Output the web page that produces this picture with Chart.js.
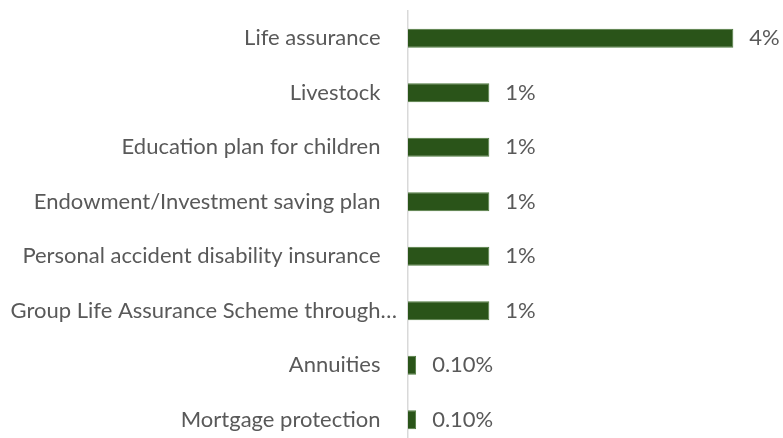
<!DOCTYPE html>
<html>
<head>
<meta charset="utf-8">
<script src="https://cdn.jsdelivr.net/npm/chart.js@4/dist/chart.umd.min.js"></script>
<style>
  html, body { margin: 0; padding: 0; background: #fff; overflow: hidden; }
  #chart { display: block; }
</style>
</head>
<body>
<canvas id="chart" width="783" height="447"></canvas>
<script>
// Insurance products held (% of respondents)
const categories = [
  'Life assurance',
  'Livestock',
  'Education plan for children',
  'Endowment/Investment saving plan',
  'Personal accident disability insurance',
  'Group Life Assurance Scheme through\u2026',
  'Annuities',
  'Mortgage protection'
];
const shares = [4, 1, 1, 1, 1, 1, 0.1, 0.1];

const FONT = { family: 'Lato, "Open Sans", sans-serif', size: 22 };
const TEXT = '#595959';

function fmtPct(v) {
  return v >= 1 ? v + '%' : v.toFixed(2) + '%';
}

// Value labels to the right of each bar
const valueLabels = {
  id: 'valueLabels',
  afterDatasetsDraw(chart) {
    const ctx = chart.ctx;
    const meta = chart.getDatasetMeta(0);
    ctx.save();
    ctx.font = FONT.size + 'px ' + FONT.family;
    ctx.fillStyle = TEXT;
    ctx.textAlign = 'left';
    ctx.textBaseline = 'middle';
    meta.data.forEach((bar, i) => {
      ctx.fillText(fmtPct(chart.data.datasets[0].data[i]), bar.x + 16, bar.y);
    });
    ctx.restore();
  }
};

new Chart(document.getElementById('chart'), {
  type: 'bar',
  data: {
    labels: categories,
    datasets: [{
      data: shares,
      backgroundColor: '#2a5419',
      borderColor: '#4f7a3e',
      borderWidth: 1,
      borderSkipped: 'start',
      barPercentage: 0.7,
      categoryPercentage: 0.5
    }]
  },
  options: {
    indexAxis: 'y',
    responsive: false,
    animation: false,
    layout: { padding: { top: 11, bottom: 0, left: 0, right: 9 } },
    plugins: { legend: { display: false }, tooltip: { enabled: false } },
    scales: {
      x: {
        display: false,
        min: 0,
        max: 4.5
      },
      y: {
        afterFit(scale) {
          scale.width = 408;
          scale.paddingTop = 0;
          scale.paddingBottom = 0;
        },
        grid: { display: false, drawTicks: false },
        border: { display: true, color: '#d9d9d9', width: 1.5 },
        ticks: {
          padding: 11,
          color: TEXT,
          font: FONT,
          callback(value, index) {
            const label = categories[index];
            // full labels sit a little further from the axis than the clipped one
            return label.endsWith('\u2026') ? label : label + '\u2003';
          }
        }
      }
    }
  },
  plugins: [valueLabels]
});
</script>
</body>
</html>
